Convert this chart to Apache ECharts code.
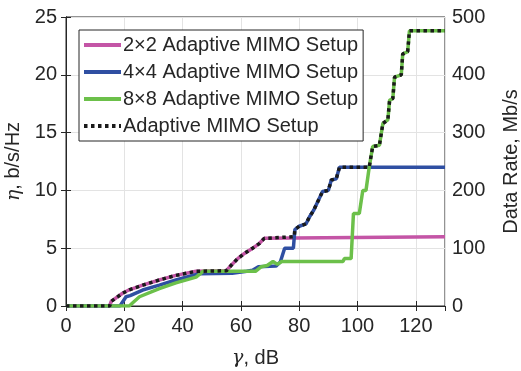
<!DOCTYPE html>
<html>
<head>
<meta charset="utf-8">
<script src="https://cdn.jsdelivr.net/npm/echarts@6/dist/echarts.min.js"></script>
<style>html,body{margin:0;padding:0;background:#fff}#c{width:521px;height:371px}</style>
</head>
<body>
<div id="c"></div>
<script>
// ---- data ----
const seriesNames = ['2×2 Adaptive MIMO Setup', '4×4 Adaptive MIMO Setup', '8×8 Adaptive MIMO Setup', 'Adaptive MIMO Setup'];
const xTicks = [0, 20, 40, 60, 80, 100, 120];
const etaTicks = [0, 5, 10, 15, 20, 25];
const rateTicks = [0, 100, 200, 300, 400, 500];

const snr2x2 = [0, 15, 15.5, 19.4, 21.7, 26.3, 32, 37.7, 44.6, 55, 56.6, 58.9, 61.2, 64, 66.3, 68, 68.6, 130];
const eta2x2 = [0, 0, 0.4, 1.1, 1.4, 1.8, 2.25, 2.65, 3.0, 3.05, 3.5, 4.1, 4.55, 5.0, 5.4, 5.85, 6, 6];

const snr4x4 = [0, 18.5, 20.6, 22, 26.3, 32, 37.7, 45.7, 57, 62, 64, 66, 72, 73.5, 75, 78, 78.5, 80, 82.3, 83.5, 85, 86.3, 88, 90, 91, 92.7, 93.8, 130];
const eta4x4 = [0, 0, 0.8, 0.9, 1.38, 1.8, 2.25, 2.8, 2.83, 3.0, 3.1, 3.4, 3.45, 3.8, 5.0, 5.0, 6.6, 6.9, 7.1, 7.7, 8.3, 9.0, 9.9, 10.0, 10.9, 11.0, 12, 12];

const snr8x8 = [0, 21.7, 23, 25.2, 32, 37.7, 44.6, 47, 65, 67, 69, 71, 72.5, 74, 95, 95.5, 97.8, 98.6, 100.6, 101.8, 102.9, 104, 105.2, 107.5, 108.7, 110.4, 111, 112.1, 112.7, 115, 115.5, 117.2, 117.8, 130];
const eta8x8 = [0, 0, 0.3, 0.8, 1.5, 2.0, 2.5, 3.0, 3.0, 3.4, 3.5, 3.85, 3.6, 3.85, 3.85, 4.1, 4.1, 8.0, 8.0, 10.0, 10.0, 12, 13.8, 13.9, 15.8, 16.1, 17.8, 17.95, 19.8, 20.0, 21.8, 22.0, 23.8, 23.8];

const snrAdaptive = [0, 15, 15.5, 19.4, 21.7, 26.3, 32, 37.7, 44.6, 55, 56.6, 58.9, 61.2, 64, 66.3, 68, 68.6, 78.3, 78.5, 80, 82.3, 83.5, 85, 86.3, 88, 90, 91, 92.7, 93.8, 104, 105.2, 107.5, 108.7, 110.4, 111, 112.1, 112.7, 115, 115.5, 117.2, 117.8, 130];
const etaAdaptive = [0, 0, 0.4, 1.1, 1.4, 1.8, 2.25, 2.65, 3.0, 3.05, 3.5, 4.1, 4.55, 5.0, 5.4, 5.85, 6, 6, 6.6, 6.9, 7.1, 7.7, 8.3, 9.0, 9.9, 10.0, 10.9, 11.0, 12, 12, 13.8, 13.9, 15.8, 16.1, 17.8, 17.95, 19.8, 20.0, 21.8, 22.0, 23.8, 23.8];

const colors = ['#C455A6', '#2F4FA2', '#6CC04A', '#1a1a1a'];

function pairs(xs, ys) { return xs.map((x, i) => [x, ys[i]]); }

const txt = '#262626';
const font = 'Liberation Sans, Arial, sans-serif';

const chart = echarts.init(document.getElementById('c'), null, {renderer: 'canvas'});
chart.setOption({
  animation: false,
  backgroundColor: '#fff',
  grid: {left: 66, right: 76, top: 17, bottom: 65, outerBoundsMode: 'none', containLabel: false,
    show: true, borderColor: txt, borderWidth: 1, backgroundColor: 'transparent'},
  legend: {
    orient: 'vertical', left: 79, top: 30,
    backgroundColor: '#fff', borderColor: txt, borderWidth: 1,
    padding: [5, 5, 5, 3], itemGap: 7, itemWidth: 37, itemHeight: 14,
    itemStyle: {opacity: 0},
    lineStyle: {width: 4},
    textStyle: {fontFamily: font, fontSize: 20, color: txt, padding: [0, 0, 0, -3]},
    data: seriesNames
  },
  xAxis: [{
    type: 'value', min: 0, max: 130, interval: 20,
    name: '{g|γ}, dB', nameLocation: 'middle', nameGap: 42,
    nameTextStyle: {fontFamily: font, fontSize: 20, color: txt, rich: {g: {fontFamily: 'DejaVu Serif, serif', fontStyle: 'italic', fontSize: 19, color: txt}}},
    axisLine: {show: true, lineStyle: {color: txt}},
    axisTick: {show: true, inside: true, length: 5, lineStyle: {color: txt}},
    axisLabel: {fontFamily: font, fontSize: 20, color: txt, margin: 10, showMaxLabel: false,
      formatter: v => xTicks.includes(v) ? String(v) : ''},
    splitLine: {show: true, lineStyle: {color: '#e3e3e3', width: 1}}
  }, {
    type: 'value', min: 0, max: 130, interval: 20, position: 'top',
    axisLine: {show: true, lineStyle: {color: txt}},
    axisTick: {show: true, inside: true, length: 5, lineStyle: {color: txt}},
    axisLabel: {show: false}, splitLine: {show: false}
  }],
  yAxis: [{
    type: 'value', min: 0, max: 25, interval: 5, position: 'left',
    name: '{g|η}, b/s/Hz', nameLocation: 'middle', nameGap: 24, nameRotate: 90,
    nameTextStyle: {fontFamily: font, fontSize: 20, color: txt, rich: {g: {fontFamily: 'DejaVu Serif, serif', fontStyle: 'italic', fontSize: 19, color: txt}}},
    axisLine: {show: true, lineStyle: {color: txt}},
    axisTick: {show: true, inside: true, length: 5, lineStyle: {color: txt}},
    axisLabel: {fontFamily: font, fontSize: 20, color: txt, margin: 9,
      formatter: v => etaTicks.includes(v) ? String(v) : ''},
    splitLine: {show: true, lineStyle: {color: '#e3e3e3', width: 1}}
  }, {
    type: 'value', min: 0, max: 500, interval: 100, position: 'right',
    name: 'Data Rate, Mb/s', nameLocation: 'middle', nameGap: 56, nameRotate: 90,
    nameTextStyle: {fontFamily: font, fontSize: 20, color: txt},
    axisLine: {show: true, lineStyle: {color: txt}},
    axisTick: {show: true, inside: true, length: 5, lineStyle: {color: txt}},
    axisLabel: {fontFamily: font, fontSize: 20, color: txt, margin: 7,
      formatter: v => rateTicks.includes(v) ? String(v) : ''},
    splitLine: {show: false}
  }],
  series: [
    {name: seriesNames[0], type: 'line', symbol: 'none', data: pairs(snr2x2, eta2x2), lineStyle: {color: colors[0], width: 3.5}, itemStyle: {color: colors[0]}, z: 2},
    {name: seriesNames[1], type: 'line', symbol: 'none', data: pairs(snr4x4, eta4x4), lineStyle: {color: colors[1], width: 3.5}, itemStyle: {color: colors[1]}, z: 3},
    {name: seriesNames[2], type: 'line', symbol: 'none', data: pairs(snr8x8, eta8x8), lineStyle: {color: colors[2], width: 3.5}, itemStyle: {color: colors[2]}, z: 4},
    {name: seriesNames[3], type: 'line', symbol: 'none', data: pairs(snrAdaptive, etaAdaptive), lineStyle: {color: colors[3], width: 3.5, type: [3.5, 3.5]}, itemStyle: {color: colors[3]}, z: 5}
  ]
});
</script>
</body>
</html>
